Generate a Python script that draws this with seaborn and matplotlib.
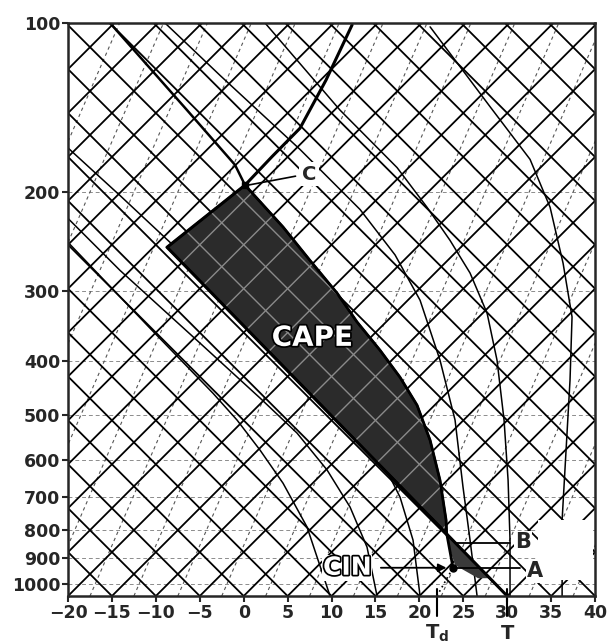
import matplotlib
matplotlib.use("Agg")
import matplotlib.pyplot as plt
import matplotlib.patheffects as pe
import matplotlib.transforms as mtransforms
from matplotlib.patches import Polygon
from matplotlib.ticker import FixedLocator, FixedFormatter, NullLocator
import numpy as np
import seaborn as sns

# axis ticks
p_ticks = [100, 200, 300, 400, 500, 600, 700, 800, 900, 1000]
p_labels = ["100", "200", "300", "400", "500", "600", "700", "800", "900", "1000"]
t_ticks = [-20, -15, -10, -5, 0, 5, 10, 15, 20, 25, 30, 35, 40]
t_labels = ["\u221220", "\u221215", "\u221210", "\u22125", "0", "5", "10", "15",
            "20", "25", "30", "35", "40"]

# skew-T background lines, given by where they meet the 1050 hPa bottom edge
isotherms = list(range(-90, 41, 5))
dry_adiabats = list(range(-20, 111, 5))
mixing_lines = [v + 2.5 for v in range(-45, 40, 5)]

# environmental sounding
env_t = [30.0, -8.73, 0.15, 3.23, 6.41, 9.37, 12.34]
env_p = [1050, 251, 194.5, 173, 154, 126.4, 100.8]

# lifted parcel, from the start point up to the equilibrium level C
parcel_t = [23.83, 23.1, 23.04, 22.35, 21.22, 19.74, 17.8, 15.52, 12.9, 10.63, 7.55, 4.48, 0.15]
parcel_p = [935, 811, 769, 653, 554, 480, 428, 383, 341, 303, 265, 231, 194.5]
# parcel curve above C
upper_t = [0.15, -0.99, -6.45, -15.22]
upper_p = [194.5, 179, 143, 100]

# CIN sliver
cin_t = [23.1, 24.97, 28.05, 26.68, 24.06, 23.49]
cin_p = [811, 870, 976, 976, 925, 870]

# saturated adiabats
ma1_t = [9.83, 7.21, 4.48, 1.86, -0.76, -3.49, -10.66, -20]
ma1_p = [1050, 791, 661, 577, 510, 457, 350, 246]
ma2_t = [15.18, 14.04, 12.11, 9.49, 6.07, 1.86, -4.97, -14.08, -20]
ma2_p = [1050, 859, 729, 626, 538, 466, 372, 276, 223]
ma3_t = [20.08, 19.28, 17.8, 15.52, 12.68, 8.69, 4.14, -4.97, -14.08, -20]
ma3_p = [1050, 835, 700, 594, 510, 442, 375, 276, 203, 167]
ma4_t = [26.57, 25.77, 24.97, 24.06, 22.35, 20.08, 17.23, 13.25, 6.41, -2.69, -8.96]
ma4_p = [1050, 835, 672, 510, 399, 312, 259, 215, 168, 124, 100]
ma5_t = [30.32, 30.32, 30.1, 29.64, 28.84, 27.71, 25.77, 23.49, 20.87, 17.46, 10.97, 2.43]
ma5_p = [1050, 835, 653, 510, 399, 329, 279, 244, 213, 181, 143, 100]
ma6_t = [36.25, 36.25, 36.7, 37.15, 37.38, 36.36, 34.88, 32.6, 28.05, 21.22]
ma6_p = [1050, 769, 577, 433, 334, 268, 213, 175, 141, 101.6]

surface_t = 30.0
surface_td = 22.0

SKEW = 63.9   # degC shift per decade of pressure (45 degree lines)
P_BOT, P_TOP = 1050, 100


def skew_line(ax, x0, ratio, **kw):
    shift = SKEW / ratio * np.log10(P_BOT / P_TOP)
    return ax.plot([x0, x0 + shift], [P_BOT, P_TOP], **kw)


sns.set_style("ticks")
plt.rcParams["font.family"] = ["DejaVu Sans"]
plt.rcParams["font.weight"] = "bold"

fig = plt.figure(figsize=(6.09, 6.44), dpi=100)
ax = fig.add_axes([0.1117, 0.0745, 0.8654, 0.8898])
ax.set_yscale("log")
ax.set_xlim(-20, 40)
ax.set_ylim(P_BOT, P_TOP)

# isobars
for p in p_ticks[1:]:
    ax.axhline(p, color="#8c8c8c", lw=0.7, ls=(0, (4, 3)), zorder=1)

# mixing ratio lines
for m in mixing_lines:
    skew_line(ax, m, 2.3, color="#555555", lw=0.8, ls=(0, (3, 3)), zorder=1.2)

# isotherms and dry adiabats
for t in isotherms:
    skew_line(ax, t, 1.0, color="black", lw=1.3, zorder=1.5)
for th in dry_adiabats:
    skew_line(ax, th, -1.0, color="black", lw=1.3, zorder=1.5)

# saturated adiabats
for mt, mp in [(ma1_t, ma1_p), (ma2_t, ma2_p), (ma3_t, ma3_p),
               (ma4_t, ma4_p), (ma5_t, ma5_p), (ma6_t, ma6_p)]:
    ax.plot(mt, mp, color="black", lw=1.1, zorder=1.6)

# blank corner in the scan
ax.fill([33.5, 39.8, 39.8, 33.5], [770, 770, 985, 985], color="white", zorder=2, lw=0)

# CAPE area: parcel curve up to C, environment back down to the LFC
cape_t = parcel_t[1:] + [-8.73, parcel_t[1]]
cape_p = parcel_p[1:] + [251, parcel_p[1]]
cape = Polygon(np.column_stack([cape_t, cape_p]), closed=True,
               facecolor="#2b2b2b", edgecolor="black", lw=1.5, zorder=3)
ax.add_patch(cape)
for t in isotherms:
    ln, = skew_line(ax, t, 1.0, color="#8a8a8a", lw=1.0, zorder=3.1)
    ln.set_clip_path(cape)
for th in dry_adiabats:
    ln, = skew_line(ax, th, -1.0, color="#8a8a8a", lw=1.0, zorder=3.1)
    ln.set_clip_path(cape)

cin = Polygon(np.column_stack([cin_t, cin_p]), closed=True,
              facecolor="#3a3a3a", edgecolor="none", zorder=3)
ax.add_patch(cin)

# sounding and parcel
sns.lineplot(x=env_t, y=env_p, sort=False, estimator=None, color="black",
             lw=2.2, ax=ax, zorder=4)
sns.lineplot(x=parcel_t, y=parcel_p, sort=False, estimator=None, color="black",
             lw=2.0, ax=ax, zorder=4)
sns.lineplot(x=upper_t, y=upper_p, sort=False, estimator=None, color="black",
             lw=1.8, ax=ax, zorder=4)
ax.plot([surface_td, parcel_t[0]], [P_BOT, parcel_p[0]], color="black", lw=1.2,
        ls=(0, (1, 2)), zorder=4)
ax.plot(parcel_t[0], parcel_p[0], "o", color="black", ms=5, zorder=5)
ax.plot(0.15, 194.5, "s", color="black", ms=4, zorder=5)

# labels
outline = [pe.Stroke(linewidth=2.5, foreground="black"), pe.Normal()]
ax.text(7.8, 364, "CAPE", color="white", fontsize=20, fontweight="bold",
        ha="center", va="center", path_effects=outline, zorder=6)
ax.text(11.8, 935, "CIN", color="white", fontsize=18, fontweight="bold",
        ha="center", va="center", path_effects=outline, zorder=6,
        bbox=dict(fc="white", ec="none", pad=0.5))
ax.annotate("", xy=(23.4, 935), xytext=(15.3, 935),
            arrowprops=dict(arrowstyle="-|>", color="black", lw=1.3,
                            mutation_scale=12), zorder=6)
ax.plot([24.06, 31.5], [935, 935], color="black", lw=1.3, zorder=4)
ax.plot([24.06, 30.32], [845, 845], color="black", lw=1.3, zorder=4)
ax.text(33.2, 948, "A", fontsize=15, fontweight="bold", ha="center", va="center",
        zorder=6, bbox=dict(fc="white", ec="none", pad=1))
ax.text(31.8, 842, "B", fontsize=15, fontweight="bold", ha="center", va="center",
        zorder=6, bbox=dict(fc="white", ec="none", pad=1))
ax.text(7.4, 186, "C", fontsize=14, fontweight="bold", ha="center", va="center",
        zorder=6, bbox=dict(fc="white", ec="none", pad=2))
ax.plot([5.9, 0.5], [187.5, 194.5], color="black", lw=1.2, zorder=6)

# T and Td markers below the axis
trans = mtransforms.blended_transform_factory(ax.transData, ax.transAxes)
for xv, lab in [(surface_td, "T$_\\mathbf{d}$"), (surface_t, "T")]:
    ax.plot([xv, xv], [0.012, -0.035], color="black", lw=1.5, transform=trans,
            clip_on=False, zorder=6)
    ax.text(xv, -0.066, lab, fontsize=14, fontweight="bold", ha="center",
            va="center", transform=trans)

ax.yaxis.set_major_locator(FixedLocator(p_ticks))
ax.yaxis.set_major_formatter(FixedFormatter(p_labels))
ax.yaxis.set_minor_locator(NullLocator())
ax.xaxis.set_major_locator(FixedLocator(t_ticks))
ax.xaxis.set_major_formatter(FixedFormatter(t_labels))
ax.tick_params(direction="out", length=4, width=1.5, labelsize=12.5, pad=1.5)
for s in ax.spines.values():
    s.set_linewidth(1.8)
    s.set_zorder(7)
    s.set_visible(True)

fig.savefig("out.png", dpi=100)
